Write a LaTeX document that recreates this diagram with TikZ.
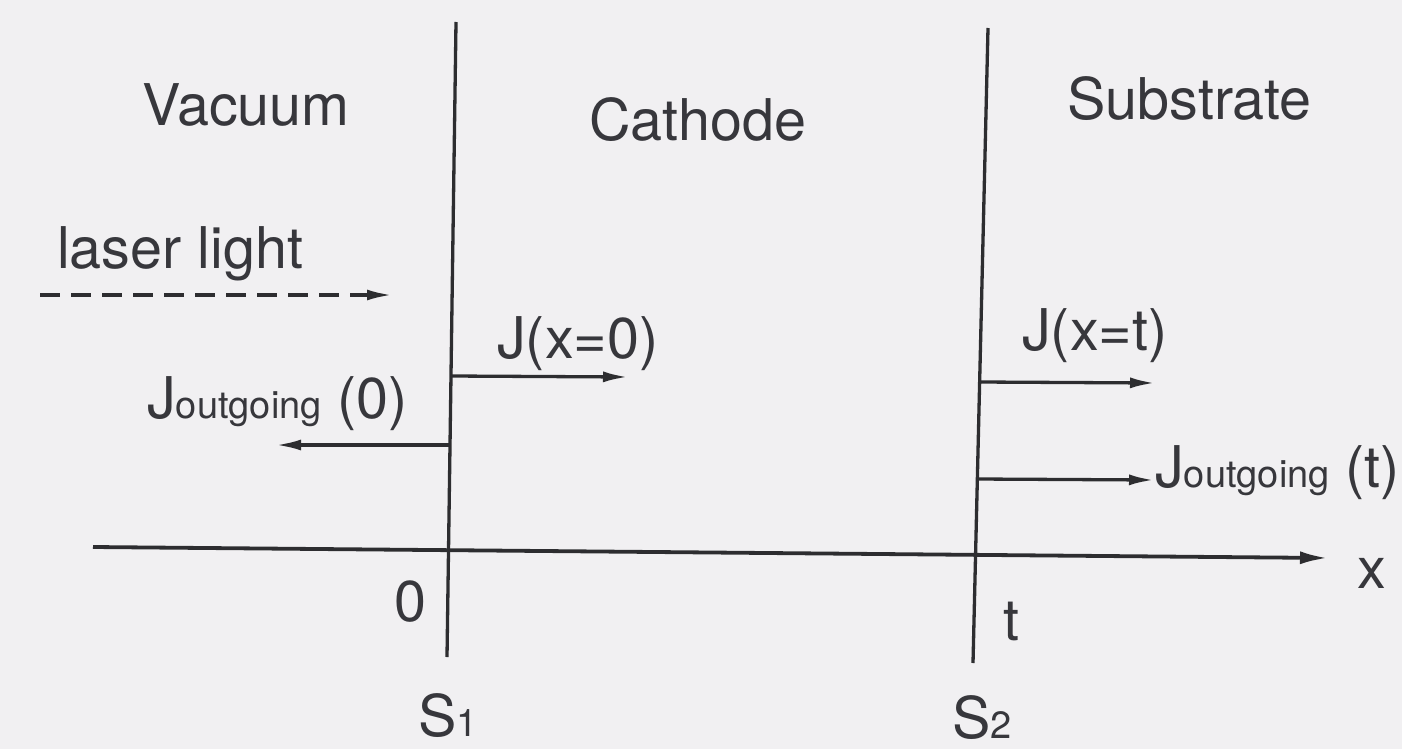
\documentclass[tikz,border=0pt]{standalone}
\usepackage{fontspec}
\setmainfont{TeX Gyre Heros}
\usetikzlibrary{arrows.meta}
\definecolor{bg}{RGB}{241,240,242}
\definecolor{ink}{RGB}{45,45,48}
\definecolor{txt}{RGB}{55,55,60}
\newcommand{\subsz}{\fontsize{38}{40}\selectfont}
\begin{document}
\begin{tikzpicture}[x=1pt,y=-1pt,
  lbl/.style={inner sep=0pt, anchor=base west, text=txt, font=\fontsize{57.5}{60}\selectfont},
  ln/.style={draw=ink, line width=3.3pt},
  arr/.style={ln, -{Latex[length=25pt,width=11pt]}},
]
\fill[bg] (0,0) rectangle (1402,749);
\useasboundingbox (0,0) rectangle (1402,749);
% surfaces and axis
\coordinate (s1top) at (456,22);
\coordinate (s1bot) at (447,657);
\coordinate (s2top) at (988,28);
\coordinate (s2bot) at (973,663);
\coordinate (axl) at (93,547);
\coordinate (axr) at (1328,558);
\draw[ln] (s1top) -- (s1bot);
\draw[ln] (s2top) -- (s2bot);
\draw[ln, line width=3.8pt, -{Latex[length=28pt,width=13pt]}] (axl) -- (axr);
% arrows
\coordinate (las) at (40,295);
\coordinate (lae) at (392,295);
\draw[arr, dash pattern=on 20pt off 11pt] (las) -- (lae);
\coordinate (j0s) at (451,376);
\coordinate (j0e) at (628,377);
\draw[arr] (j0s) -- (j0e);
\coordinate (jo0s) at (450,445);
\coordinate (jo0e) at (276,445);
\draw[arr] (jo0s) -- (jo0e);
\coordinate (jts) at (980,382);
\coordinate (jte) at (1155,383);
\draw[arr] (jts) -- (jte);
\coordinate (jots) at (977,479);
\coordinate (jote) at (1154,480);
\draw[arr] (jots) -- (jote);
% labels
\node[lbl] (vac) at (142,125) {Vacuum};
\node[lbl] (cat) at (589,140) {Cathode};
\node[lbl] (sub) at (1067,120) {Substrate};
\node[lbl] (laser) at (57,268) {laser light};
\node[lbl] (jx0) at (497,358) {J(x=0)};
\node[lbl] (jo0) at (147,418) {J{\subsz outgoing} (0)};
\node[lbl] (jxt) at (1022,350) {J(x=t)};
\node[lbl] (jot) at (1155,487) {J{\subsz outgoing} (t)};
\node[lbl] (zero) at (394,621) {0};
\node[lbl] (tee) at (1003,640) {t};
\node[lbl] (xlab) at (1357,588) {x};
\node[lbl] (s1) at (418,736) {S{\subsz 1}};
\node[lbl] (s2) at (952,738) {S{\subsz 2}};
\end{tikzpicture}
\end{document}
